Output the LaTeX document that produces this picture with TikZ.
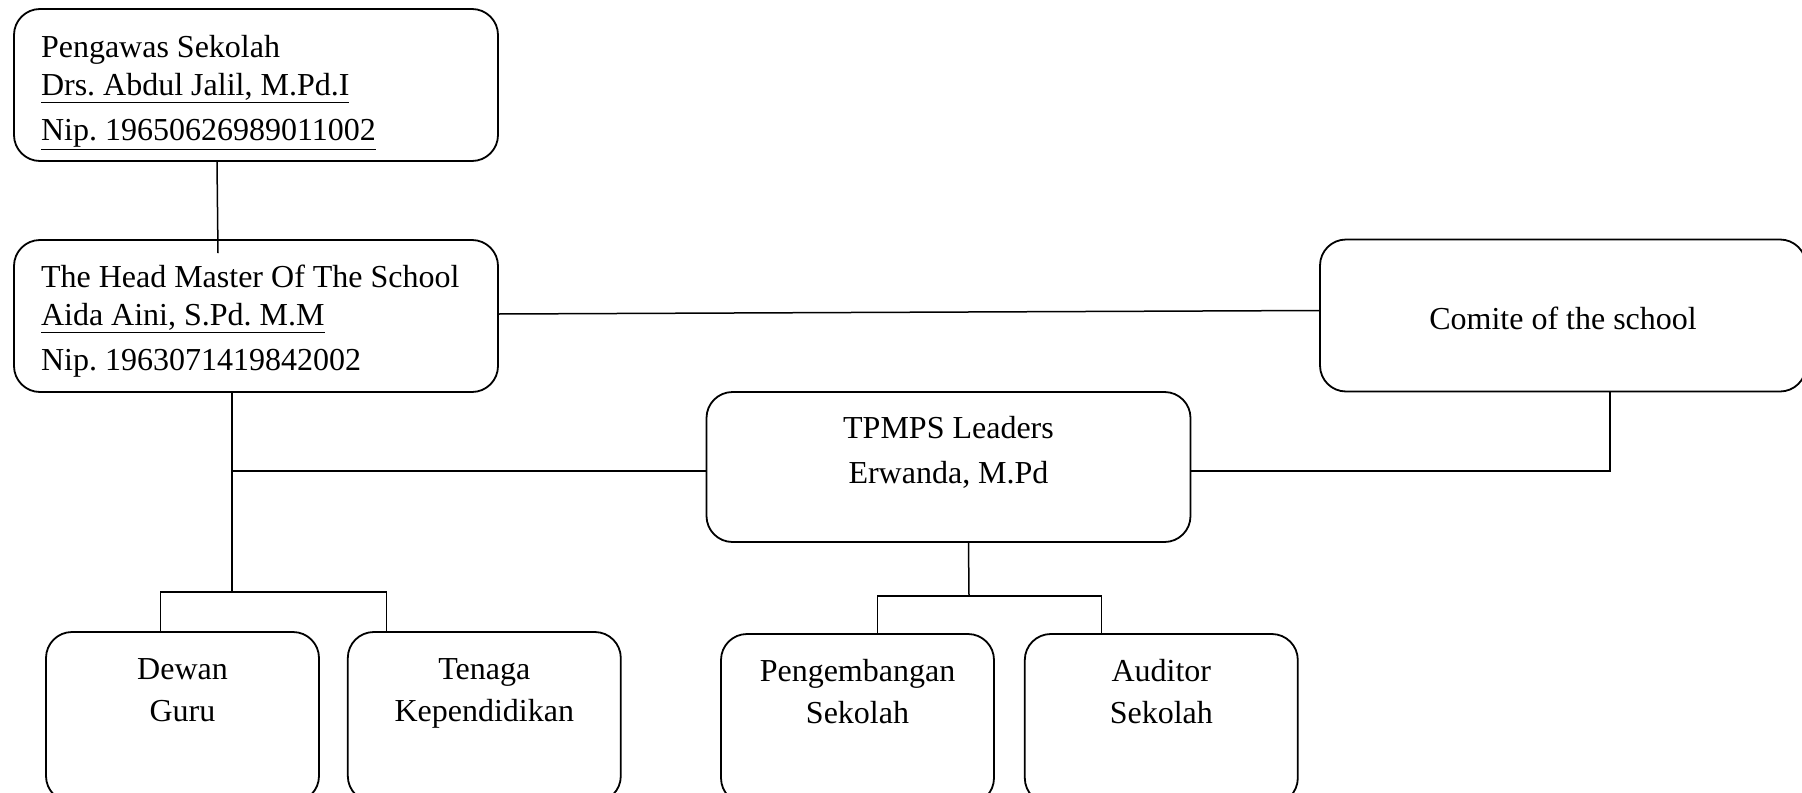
\documentclass[tikz,border=0pt]{standalone}
\usepackage{fontspec}
\setmainfont{Liberation Serif}
\usepackage{tikz}
\usetikzlibrary{positioning}
\tikzset{
x=0.5pt, y=-0.5pt, % one unit is one pixel of the page
org box/.style={draw, rounded corners=13pt, line width=0.9pt, inner sep=0pt, align=center,
  font=\fontsize{16}{21}\selectfont\frenchspacing},
wide box/.style={org box, minimum width=242pt, minimum height=76pt},
staff box/.style={org box, minimum width=136.5pt, minimum height=85pt},
name box/.style={wide box, align=flush left, inner xsep=13.5pt, text width=215pt},
link/.style={line width=0.75pt},
}

\begin{document}
\begin{tikzpicture}
\useasboundingbox (0,0) rectangle (1802,792);

\node[name box, text height=19pt] (pengawas) at (256,85) {Pengawas Sekolah\\[-2pt]\underline{Drs. Abdul Jalil, M.Pd.I}\\[1.5pt]\underline{Nip. 19650626989011002}};
\node[name box, text height=16pt] (head) at (256,316) {The Head Master Of The School\\[-2pt]\underline{Aida Aini, S.Pd. M.M}\\[1.5pt]Nip. 1963071419842002};
\node[wide box, minimum width=243pt, text height=14.4pt] (comite) at (1563,315.5) {Comite of the school};
\node[wide box, minimum height=75pt] (tpmps) at (948.5,467) {TPMPS Leaders\\[1.5pt]Erwanda, M.Pd\\[-10pt]\strut};

\node[staff box] (dewan) at (182.5,717) {Dewan\\Guru\\\strut};
\node[staff box, right=13.5pt of dewan] (tenaga) {Tenaga\\Kependidikan\\\strut};
\node[staff box] (pengembangan) at (857.5,719) {Pengembangan\\Sekolah\\\strut};
\node[staff box, right=14.5pt of pengembangan] (auditor) {Auditor\\Sekolah\\\strut};

\coordinate (staff fork) at (232,592);
\coordinate (tpmps fork) at (969,596);

\draw[link] ([xshift=-19.5pt]pengawas.south) -- ([xshift=-19pt,yshift=-7pt]head.north);
\draw[link] ([yshift=1pt]head.east) -- ([yshift=2.5pt]comite.west);
\draw[link] ([xshift=-12pt]head.south) -- (staff fork);
\draw[link] ([yshift=-2pt]tpmps.west) -- ([yshift=-2pt]tpmps.west -| staff fork);
\draw[link] ([xshift=-11pt]dewan.north) |- (staff fork) -| ([xshift=-49pt]tenaga.north);
\draw[link] ([xshift=23.5pt]comite.south) |- ([yshift=-2pt]tpmps.east);
\draw[link] ([xshift=10pt]tpmps.south) -- (tpmps fork);
\draw[link] ([xshift=10pt]pengembangan.north) |- (tpmps fork) -| ([xshift=-30pt]auditor.north);

\end{tikzpicture}
\end{document}
